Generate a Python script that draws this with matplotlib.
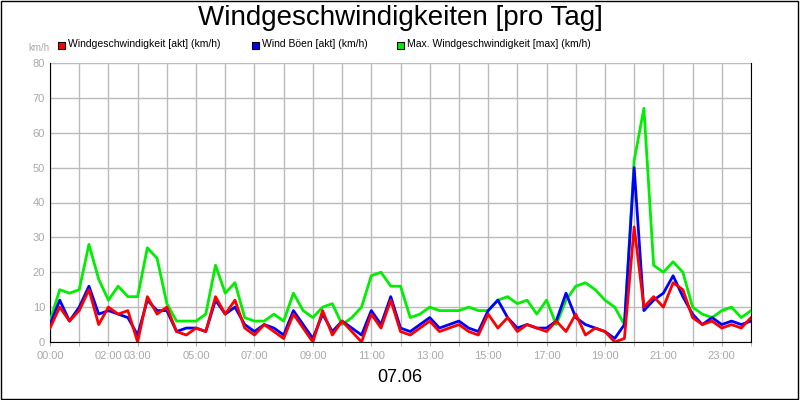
import matplotlib.pyplot as plt
import numpy as np

# values every 20 minutes, one row per hour (km/h)
akt = [4, 10, 6,  9, 15, 5,  10, 8, 9,  0, 13, 8,  10, 3, 2,  4, 3, 13,
       8, 12, 4,  2, 5, 3,  1, 8, 4,  0, 9, 2,  6, 3, 0,  8, 4, 12,
       3, 2, 4,  6, 3, 4,  5, 3, 2,  8, 4, 7,  3, 5, 4,  3, 6, 3,
       8, 2, 4,  3, 0, 1,  33, 10, 13,  10, 17, 15,  7, 5, 6,  4, 5, 4,
       7]
boeen = [5, 12, 6,  10, 16, 8,  9, 8, 7,  2, 12, 9,  9, 3, 4,  4, 3, 12,
         8, 10, 5,  3, 5, 4,  2, 9, 5,  1, 8, 3,  6, 4, 2,  9, 5, 13,
         4, 3, 5,  7, 4, 5,  6, 4, 3,  9, 12, 7,  4, 5, 4,  4, 6, 14,
         7, 5, 4,  3, 1, 5,  50, 9, 12,  14, 19, 13,  8, 5, 7,  5, 6, 5,
         6]
maxw = [6, 15, 14,  15, 28, 18,  12, 16, 13,  13, 27, 24,  11, 6, 6,  6, 8, 22,
        14, 17, 7,  6, 6, 8,  6, 14, 9,  7, 10, 11,  5, 7, 10,  19, 20, 16,
        16, 7, 8,  10, 9, 9,  9, 10, 9,  9, 12, 13,  11, 12, 8,  12, 5, 12,
        16, 17, 15,  12, 10, 5,  52, 67, 22,  20, 23, 20,  10, 8, 7,  9, 10, 7,
        9]
hours = np.arange(len(akt)) / 3.0
tick_hours = [0, 2, 3, 5, 7, 9, 11, 13, 15, 17, 19, 21, 23]
tick_labels = ["%02d:00" % h for h in tick_hours]

plt.rcParams['font.family'] = ['Liberation Sans', 'DejaVu Sans']
fig = plt.figure(figsize=(8, 4), dpi=100)
fig.patches.append(plt.Rectangle((0.001, 0.002), 0.997, 0.996, transform=fig.transFigure,
                                 fill=False, edgecolor='black', linewidth=1))
ax = fig.add_axes([50 / 800, 1 - 342 / 400, 701 / 800, (342 - 63) / 400])

ax.plot(hours, maxw, color='#00ee00', lw=2, zorder=3)
ax.plot(hours, boeen, color='#0000ff', lw=2, zorder=4)
ax.plot(hours, akt, color='#ff0000', lw=2, zorder=5)

ax.set_xlim(0, 24)
ax.set_ylim(0, 80)
ax.set_yticks(range(0, 81, 10))
ax.set_xticks(tick_hours)
ax.set_xticklabels(tick_labels)
ax.set_xticks(range(0, 25), minor=True)
ax.grid(True, which='both', color='#bbbbbb', lw=1, zorder=0)
ax.tick_params(colors='#aaaaaa', labelsize=8, length=3, which='both')
ax.tick_params(axis='y', length=0)
for s in ['left', 'bottom', 'right']:
    ax.spines[s].set_color('black')
ax.spines['top'].set_visible(False)

fig.text(0.5, 0.955, "Windgeschwindigkeiten [pro Tag]", ha='center', va='center', fontsize=20)
fig.text(28 / 800, 0.88, "km/h", color='#aaaaaa', fontsize=7, va='center')
fig.text(0.5, 0.055, "07.06", ha='center', va='center', fontsize=13)

legend = [("#ff0000", "Windgeschwindigkeit [akt] (km/h)", 58),
          ("#0000ff", "Wind Böen [akt] (km/h)", 252),
          ("#00ee00", "Max. Windgeschwindigkeit [max] (km/h)", 397)]
for col, label, px in legend:
    fig.patches.append(plt.Rectangle((px / 800, 0.878), 7 / 800, 7 / 400, transform=fig.transFigure,
                                     facecolor=col, edgecolor='black', linewidth=0.8))
    fig.text((px + 10) / 800, 0.889, label, fontsize=7.5, va='center')

fig.savefig("out.png", dpi=100)
